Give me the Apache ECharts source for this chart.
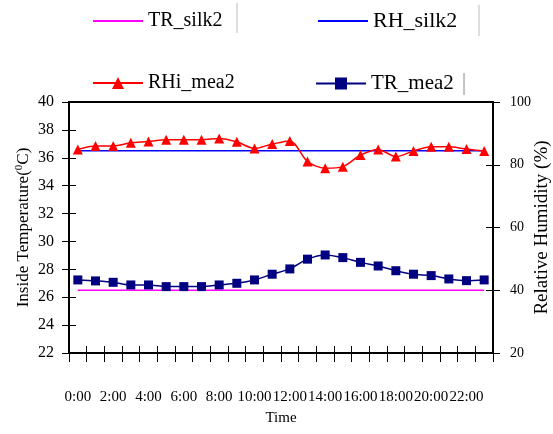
<!DOCTYPE html>
<html>
<head>
<meta charset="utf-8">
<script src="https://cdn.jsdelivr.net/npm/echarts@6/dist/echarts.min.js"></script>
<style>
  html, body { margin: 0; padding: 0; background: #fff; }
  #chart { width: 553px; height: 434px; }
</style>
</head>
<body>
<div id="chart"></div>
<script>
// data
var hours = ["0:00", "1:00", "2:00", "3:00", "4:00", "5:00", "6:00", "7:00", "8:00", "9:00", "10:00", "11:00",
  "12:00", "13:00", "14:00", "15:00", "16:00", "17:00", "18:00", "19:00", "20:00", "21:00", "22:00", "23:00"];

// temperature, left axis
var trSilk2 = [26.5, 26.5, 26.5, 26.5, 26.5, 26.5, 26.5, 26.5, 26.5, 26.5, 26.5, 26.5,
  26.5, 26.5, 26.5, 26.5, 26.5, 26.5, 26.5, 26.5, 26.5, 26.5, 26.5, 26.5];
var trMea2 = [27.24, 27.17, 27.07, 26.88, 26.88, 26.76, 26.76, 26.76, 26.88, 27.0, 27.24, 27.65,
  28.03, 28.73, 29.03, 28.84, 28.5, 28.24, 27.9, 27.65, 27.55, 27.31, 27.19, 27.24];

// humidity, right axis
var rhSilk2 = [84.5, 84.5, 84.5, 84.5, 84.5, 84.5, 84.5, 84.5, 84.5, 84.5, 84.5, 84.5,
  84.5, 84.5, 84.5, 84.5, 84.5, 84.5, 84.5, 84.5, 84.5, 84.5, 84.5, 84.5];
var rhiMea2 = [84.9, 86.0, 86.0, 87.0, 87.4, 88.0, 88.0, 88.0, 88.4, 87.3, 85.2, 86.6,
  87.6, 81.0, 78.9, 79.4, 83.1, 84.9, 82.6, 84.4, 85.7, 85.7, 85.0, 84.4];

var FONT = "Liberation Serif";

var myChart = echarts.init(document.getElementById("chart"));

function legendBox(name, left, top, size, noMarker) {
  var box = {
    data: [name],
    left: left,
    top: top,
    itemWidth: 50,
    itemHeight: 15,
    itemGap: 0,
    textStyle: { fontFamily: FONT, fontSize: size, color: "#000" }
  };
  if (noMarker) box.itemStyle = { opacity: 0 };
  return box;
}

// same tick style used by every axis, ticks go both sides of the frame
var tickStyle = { color: "#000", width: 1 };
var frameLine = { show: true, lineStyle: { color: "#000", width: 2 } };

var option = {
  animation: false,
  backgroundColor: "#fff",
  legend: [
    legendBox("TR_silk2", 87, 6, 20, true),
    legendBox("RH_silk2", 312, 5, 22, true),
    legendBox("RHi_mea2", 87, 68, 20),
    legendBox("TR_mea2", 310, 68, 21)
  ],
  grid: {
    left: 69, right: 60, top: 102, bottom: 81,
    outerBoundsMode: "none",
    containLabel: false,
    show: true, borderColor: "#000", borderWidth: 2
  },
  graphic: [
    { type: "line", shape: { x1: 237, y1: 3, x2: 237, y2: 33 }, style: { stroke: "#bbb", lineWidth: 1 } },
    { type: "line", shape: { x1: 479, y1: 5, x2: 479, y2: 36 }, style: { stroke: "#bbb", lineWidth: 1 } },
    { type: "line", shape: { x1: 464, y1: 73, x2: 464, y2: 95 }, style: { stroke: "#888", lineWidth: 1 } }
  ],
  xAxis: [
    {
      type: "category",
      data: hours,
      position: "bottom",
      boundaryGap: true,
      name: "Time",
      nameLocation: "middle",
      nameGap: 58,
      nameMoveOverlap: false,
      nameTextStyle: { fontFamily: FONT, fontSize: 15, color: "#000" },
      axisLine: frameLine,
      axisTick: { show: true, interval: 0, length: 9, lineStyle: tickStyle },
      axisLabel: { interval: 1, margin: 37, fontFamily: FONT, fontSize: 15, color: "#000" },
      splitLine: { show: false }
    },
    {
      type: "category",
      data: hours,
      position: "bottom",
      offset: 0,
      boundaryGap: true,
      axisLine: frameLine,
      axisTick: { show: true, interval: 0, inside: true, length: 7, lineStyle: tickStyle },
      axisLabel: { show: false },
      splitLine: { show: false }
    }
  ],
  yAxis: [
    {
      type: "value",
      position: "left",
      min: 22, max: 40, interval: 2,
      name: "Inside Temperature({sup|0}C)",
      nameLocation: "middle",
      nameGap: 36,
      nameMoveOverlap: false,
      nameTextStyle: {
        fontFamily: FONT, fontSize: 17, color: "#000",
        rich: { sup: { fontFamily: FONT, fontSize: 11, color: "#000", verticalAlign: "top", padding: [0, 0, 8, 0] } }
      },
      axisLine: frameLine,
      axisTick: { show: true, length: 7, lineStyle: tickStyle },
      axisLabel: { margin: 15, fontFamily: FONT, fontSize: 16, color: "#000" },
      splitLine: { show: false }
    },
    {
      type: "value",
      position: "right",
      min: 20, max: 100, interval: 20,
      name: "Relative Humidity (%)",
      nameLocation: "middle",
      nameGap: 40,
      nameMoveOverlap: false,
      nameTextStyle: { fontFamily: FONT, fontSize: 19, color: "#000" },
      axisLine: frameLine,
      axisTick: { show: true, length: 7, lineStyle: tickStyle },
      axisLabel: { margin: 17, fontFamily: FONT, fontSize: 14, color: "#000" },
      splitLine: { show: false }
    },
    {
      type: "value",
      position: "left",
      offset: 0,
      min: 22, max: 40, interval: 2,
      axisLine: frameLine,
      axisTick: { show: true, inside: true, length: 7, lineStyle: tickStyle },
      axisLabel: { show: false },
      splitLine: { show: false }
    },
    {
      type: "value",
      position: "right",
      offset: 0,
      min: 20, max: 100, interval: 20,
      axisLine: frameLine,
      axisTick: { show: true, inside: true, length: 7, lineStyle: tickStyle },
      axisLabel: { show: false },
      splitLine: { show: false }
    }
  ],
  series: [
    {
      name: "TR_silk2",
      type: "line",
      yAxisIndex: 0,
      data: trSilk2,
      symbol: "none",
      lineStyle: { color: "#FF00FF", width: 1.5 },
      itemStyle: { color: "#FF00FF" }
    },
    {
      name: "RH_silk2",
      type: "line",
      yAxisIndex: 1,
      data: rhSilk2,
      symbol: "none",
      lineStyle: { color: "#0000FF", width: 1.5 },
      itemStyle: { color: "#0000FF" }
    },
    {
      name: "RHi_mea2",
      type: "line",
      yAxisIndex: 1,
      data: rhiMea2,
      smooth: 0.3,
      symbol: "triangle",
      symbolSize: 10,
      lineStyle: { color: "#FF0000", width: 1.5 },
      itemStyle: { color: "#FF0000" }
    },
    {
      name: "TR_mea2",
      type: "line",
      yAxisIndex: 0,
      data: trMea2,
      smooth: 0.3,
      symbol: "rect",
      symbolSize: 9,
      lineStyle: { color: "#000080", width: 1.5 },
      itemStyle: { color: "#000080" }
    }
  ]
};

myChart.setOption(option);
</script>
</body>
</html>
